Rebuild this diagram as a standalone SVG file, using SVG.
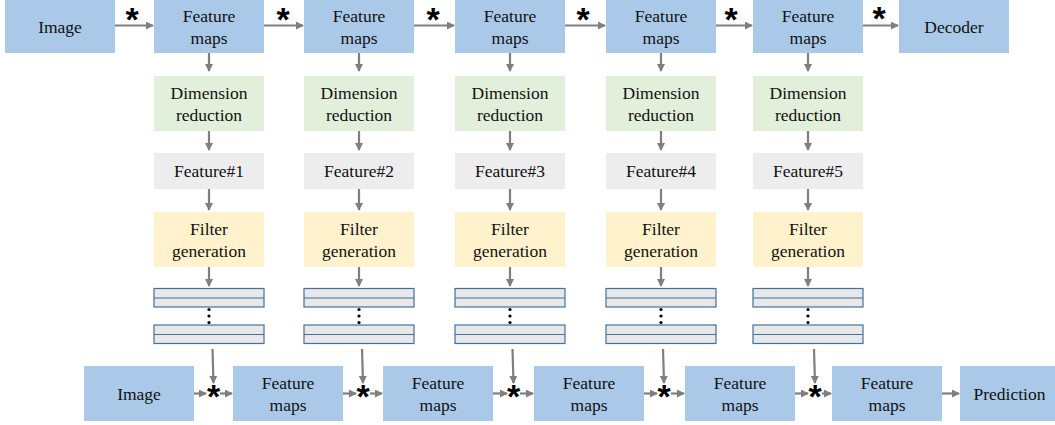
<svg xmlns="http://www.w3.org/2000/svg" width="1055" height="425" viewBox="0 0 1055 425">
<style>
.b{fill:#aac9e8}
.g{fill:#e2efda}
.r{fill:#ededed}
.y{fill:#fff2cc}
.k{fill:#e8e8e8;stroke:#41719c;stroke-width:1.2}
.t{font-family:'Liberation Serif','DejaVu Serif',serif;font-size:17.5px;fill:#111;text-anchor:middle}
.s{font-family:'Liberation Sans','DejaVu Sans',sans-serif;font-weight:bold;font-size:34px;fill:#000;text-anchor:middle}
.a{stroke:#7f7f7f;stroke-width:2.2;fill:none;marker-end:url(#ah)}
.d{fill:#000}
</style>
<defs>
<marker id="ah" markerWidth="8" markerHeight="8" refX="7" refY="4" orient="auto" markerUnits="userSpaceOnUse"><path d="M0,0 L8,4 L0,8 Z" fill="#7f7f7f"/></marker>
</defs>
<g id="top-image"><rect class="b" x="5" y="0" width="110" height="53"/><text class="t" x="60" y="33">Image</text></g>
<g id="top-fm1"><rect class="b" x="154" y="0" width="110" height="53"/><text class="t" x="209" y="22">Feature</text><text class="t" x="209" y="44">maps</text></g>
<g id="top-fm2"><rect class="b" x="304" y="0" width="110" height="53"/><text class="t" x="359" y="22">Feature</text><text class="t" x="359" y="44">maps</text></g>
<g id="top-fm3"><rect class="b" x="455" y="0" width="110" height="53"/><text class="t" x="510" y="22">Feature</text><text class="t" x="510" y="44">maps</text></g>
<g id="top-fm4"><rect class="b" x="606" y="0" width="110" height="53"/><text class="t" x="661" y="22">Feature</text><text class="t" x="661" y="44">maps</text></g>
<g id="top-fm5"><rect class="b" x="753" y="0" width="110" height="53"/><text class="t" x="808" y="22">Feature</text><text class="t" x="808" y="44">maps</text></g>
<g id="decoder"><rect class="b" x="899" y="0" width="110" height="53"/><text class="t" x="954" y="33">Decoder</text></g>

<g id="dr1"><rect class="g" x="154" y="76" width="110" height="55"/><text class="t" x="209" y="99">Dimension</text><text class="t" x="209" y="121">reduction</text></g>
<g id="dr2"><rect class="g" x="304" y="76" width="110" height="55"/><text class="t" x="359" y="99">Dimension</text><text class="t" x="359" y="121">reduction</text></g>
<g id="dr3"><rect class="g" x="455" y="76" width="110" height="55"/><text class="t" x="510" y="99">Dimension</text><text class="t" x="510" y="121">reduction</text></g>
<g id="dr4"><rect class="g" x="606" y="76" width="110" height="55"/><text class="t" x="661" y="99">Dimension</text><text class="t" x="661" y="121">reduction</text></g>
<g id="dr5"><rect class="g" x="753" y="76" width="110" height="55"/><text class="t" x="808" y="99">Dimension</text><text class="t" x="808" y="121">reduction</text></g>

<g id="f1"><rect class="r" x="154" y="153" width="110" height="36"/><text class="t" x="209" y="177">Feature#1</text></g>
<g id="f2"><rect class="r" x="304" y="153" width="110" height="36"/><text class="t" x="359" y="177">Feature#2</text></g>
<g id="f3"><rect class="r" x="455" y="153" width="110" height="36"/><text class="t" x="510" y="177">Feature#3</text></g>
<g id="f4"><rect class="r" x="606" y="153" width="110" height="36"/><text class="t" x="661" y="177">Feature#4</text></g>
<g id="f5"><rect class="r" x="753" y="153" width="110" height="36"/><text class="t" x="808" y="177">Feature#5</text></g>

<g id="fg1"><rect class="y" x="154" y="212" width="110" height="55"/><text class="t" x="209" y="235">Filter</text><text class="t" x="209" y="257">generation</text></g>
<g id="fg2"><rect class="y" x="304" y="212" width="110" height="55"/><text class="t" x="359" y="235">Filter</text><text class="t" x="359" y="257">generation</text></g>
<g id="fg3"><rect class="y" x="455" y="212" width="110" height="55"/><text class="t" x="510" y="235">Filter</text><text class="t" x="510" y="257">generation</text></g>
<g id="fg4"><rect class="y" x="606" y="212" width="110" height="55"/><text class="t" x="661" y="235">Filter</text><text class="t" x="661" y="257">generation</text></g>
<g id="fg5"><rect class="y" x="753" y="212" width="110" height="55"/><text class="t" x="808" y="235">Filter</text><text class="t" x="808" y="257">generation</text></g>

<g id="bank1"><rect class="k" x="154" y="288.5" width="110" height="18.5"/><line class="k" x1="154" y1="298" x2="264" y2="298"/><rect class="k" x="154" y="325" width="110" height="18.5"/><line class="k" x1="154" y1="334.5" x2="264" y2="334.5"/><circle class="d" cx="209" cy="309.5" r="1.6"/><circle class="d" cx="209" cy="316" r="1.6"/><circle class="d" cx="209" cy="322.5" r="1.6"/></g>
<g id="bank2"><rect class="k" x="304" y="288.5" width="110" height="18.5"/><line class="k" x1="304" y1="298" x2="414" y2="298"/><rect class="k" x="304" y="325" width="110" height="18.5"/><line class="k" x1="304" y1="334.5" x2="414" y2="334.5"/><circle class="d" cx="359" cy="309.5" r="1.6"/><circle class="d" cx="359" cy="316" r="1.6"/><circle class="d" cx="359" cy="322.5" r="1.6"/></g>
<g id="bank3"><rect class="k" x="455" y="288.5" width="110" height="18.5"/><line class="k" x1="455" y1="298" x2="565" y2="298"/><rect class="k" x="455" y="325" width="110" height="18.5"/><line class="k" x1="455" y1="334.5" x2="565" y2="334.5"/><circle class="d" cx="510" cy="309.5" r="1.6"/><circle class="d" cx="510" cy="316" r="1.6"/><circle class="d" cx="510" cy="322.5" r="1.6"/></g>
<g id="bank4"><rect class="k" x="606" y="288.5" width="110" height="18.5"/><line class="k" x1="606" y1="298" x2="716" y2="298"/><rect class="k" x="606" y="325" width="110" height="18.5"/><line class="k" x1="606" y1="334.5" x2="716" y2="334.5"/><circle class="d" cx="661" cy="309.5" r="1.6"/><circle class="d" cx="661" cy="316" r="1.6"/><circle class="d" cx="661" cy="322.5" r="1.6"/></g>
<g id="bank5"><rect class="k" x="753" y="288.5" width="110" height="18.5"/><line class="k" x1="753" y1="298" x2="863" y2="298"/><rect class="k" x="753" y="325" width="110" height="18.5"/><line class="k" x1="753" y1="334.5" x2="863" y2="334.5"/><circle class="d" cx="808" cy="309.5" r="1.6"/><circle class="d" cx="808" cy="316" r="1.6"/><circle class="d" cx="808" cy="322.5" r="1.6"/></g>

<g id="bot-image"><rect class="b" x="84" y="366" width="110" height="55"/><text class="t" x="139" y="400">Image</text></g>
<g id="bot-fm1"><rect class="b" x="233" y="366" width="110" height="55"/><text class="t" x="288" y="389">Feature</text><text class="t" x="288" y="411">maps</text></g>
<g id="bot-fm2"><rect class="b" x="383" y="366" width="110" height="55"/><text class="t" x="438" y="389">Feature</text><text class="t" x="438" y="411">maps</text></g>
<g id="bot-fm3"><rect class="b" x="534" y="366" width="110" height="55"/><text class="t" x="589" y="389">Feature</text><text class="t" x="589" y="411">maps</text></g>
<g id="bot-fm4"><rect class="b" x="685" y="366" width="110" height="55"/><text class="t" x="740" y="389">Feature</text><text class="t" x="740" y="411">maps</text></g>
<g id="bot-fm5"><rect class="b" x="832" y="366" width="110" height="55"/><text class="t" x="887" y="389">Feature</text><text class="t" x="887" y="411">maps</text></g>
<g id="prediction"><rect class="b" x="960" y="366" width="100" height="55"/><text class="t" x="1009.5" y="400">Prediction</text></g>

<g id="connectors">
<line class="a" x1="115" y1="25.5" x2="153" y2="25.5"/>
<line class="a" x1="264" y1="25.5" x2="303" y2="25.5"/>
<line class="a" x1="414" y1="25.5" x2="454" y2="25.5"/>
<line class="a" x1="565" y1="25.5" x2="605" y2="25.5"/>
<line class="a" x1="716" y1="25.5" x2="752" y2="25.5"/>
<line class="a" x1="863" y1="25.5" x2="898" y2="25.5"/>
<text class="s" x="132" y="30.5">*</text>
<text class="s" x="283" y="30.5">*</text>
<text class="s" x="433" y="30.5">*</text>
<text class="s" x="583" y="30.5">*</text>
<text class="s" x="731" y="30.5">*</text>
<text class="s" x="879" y="29.5">*</text>

<line class="a" x1="209" y1="53" x2="209" y2="71"/>
<line class="a" x1="359" y1="53" x2="359" y2="71"/>
<line class="a" x1="510" y1="53" x2="510" y2="71"/>
<line class="a" x1="661" y1="53" x2="661" y2="71"/>
<line class="a" x1="808" y1="53" x2="808" y2="71"/>

<line class="a" x1="209" y1="131" x2="209" y2="150"/>
<line class="a" x1="359" y1="131" x2="359" y2="150"/>
<line class="a" x1="510" y1="131" x2="510" y2="150"/>
<line class="a" x1="661" y1="131" x2="661" y2="150"/>
<line class="a" x1="808" y1="131" x2="808" y2="150"/>

<line class="a" x1="209" y1="189" x2="209" y2="210"/>
<line class="a" x1="359" y1="189" x2="359" y2="210"/>
<line class="a" x1="510" y1="189" x2="510" y2="210"/>
<line class="a" x1="661" y1="189" x2="661" y2="210"/>
<line class="a" x1="808" y1="189" x2="808" y2="210"/>

<line class="a" x1="209" y1="267" x2="209" y2="286"/>
<line class="a" x1="359" y1="267" x2="359" y2="286"/>
<line class="a" x1="510" y1="267" x2="510" y2="286"/>
<line class="a" x1="661" y1="267" x2="661" y2="286"/>
<line class="a" x1="808" y1="267" x2="808" y2="286"/>

<line class="a" x1="212.5" y1="349" x2="213.5" y2="383"/>
<line class="a" x1="362" y1="349" x2="363" y2="383"/>
<line class="a" x1="512.5" y1="349" x2="513.5" y2="383"/>
<line class="a" x1="663" y1="349" x2="664" y2="383"/>
<line class="a" x1="814" y1="349" x2="815" y2="383"/>

<line class="a" x1="194" y1="393.5" x2="206" y2="393.5"/>
<line class="a" x1="220" y1="393.5" x2="232" y2="393.5"/>
<line class="a" x1="343" y1="393.5" x2="356" y2="393.5"/>
<line class="a" x1="370" y1="393.5" x2="382" y2="393.5"/>
<line class="a" x1="493" y1="393.5" x2="507" y2="393.5"/>
<line class="a" x1="520" y1="393.5" x2="533" y2="393.5"/>
<line class="a" x1="644" y1="393.5" x2="657" y2="393.5"/>
<line class="a" x1="671" y1="393.5" x2="684" y2="393.5"/>
<line class="a" x1="795" y1="393.5" x2="808" y2="393.5"/>
<line class="a" x1="822" y1="393.5" x2="831" y2="393.5"/>
<line class="a" x1="942" y1="393.5" x2="959" y2="393.5"/>
<text class="s" x="213.5" y="408">*</text>
<text class="s" x="363" y="408">*</text>
<text class="s" x="513.5" y="408">*</text>
<text class="s" x="664" y="408">*</text>
<text class="s" x="815" y="408">*</text>
</g>
</svg>
